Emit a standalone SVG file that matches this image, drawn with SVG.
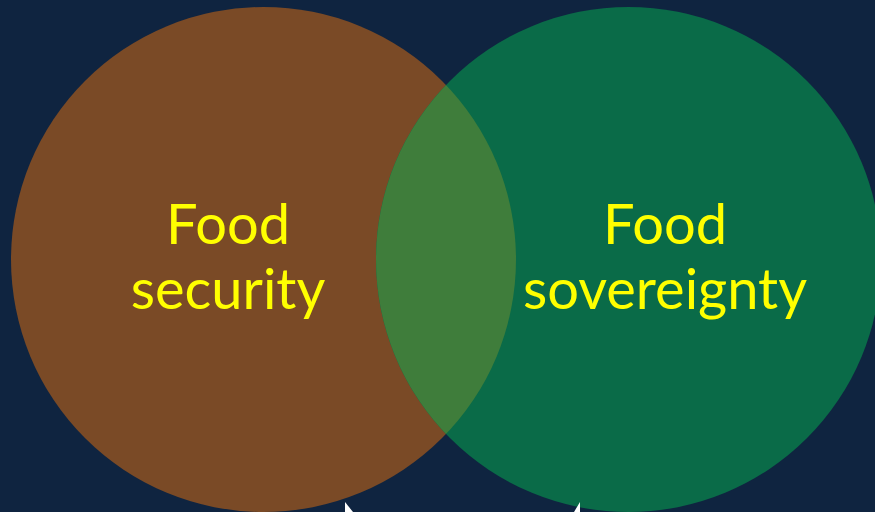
<svg xmlns="http://www.w3.org/2000/svg" width="875" height="512" viewBox="0 0 875 512">
  <style>
    .lbl { font-family: Lato, "Open Sans", "Liberation Sans", sans-serif; font-size: 56px; fill: #FFFF00; text-anchor: middle; }
    .tip { fill: #FFFFFF; }
  </style>
  <defs>
    <clipPath id="clipLeft">
      <ellipse cx="263.5" cy="259.5" rx="252.5" ry="252.5"/>
    </clipPath>
  </defs>
  <rect x="0" y="0" width="875" height="512" fill="#0F2440"/>
  <g id="food-security-circle">
    <ellipse cx="263.5" cy="259.5" rx="252.5" ry="252.5" fill="#7A4A26"/>
  </g>
  <g id="food-sovereignty-circle">
    <ellipse cx="628.5" cy="259.5" rx="252.5" ry="252.5" fill="#0A6B48"/>
  </g>
  <g id="overlap">
    <ellipse cx="628.5" cy="259.5" rx="252.5" ry="252.5" fill="#3F7D3B" clip-path="url(#clipLeft)"/>
  </g>
  <g id="label-food-security">
    <text class="lbl" x="228" y="244">Food</text>
    <text class="lbl" x="228" y="309">security</text>
  </g>
  <g id="label-food-sovereignty">
    <text class="lbl" x="665" y="244">Food</text>
    <text class="lbl" x="665" y="309">sovereignty</text>
  </g>
  <g id="connectors">
    <polygon class="tip" points="345,502 353,512 345,512"/>
    <polygon class="tip" points="580,502 580,512 574,512"/>
  </g>
</svg>
